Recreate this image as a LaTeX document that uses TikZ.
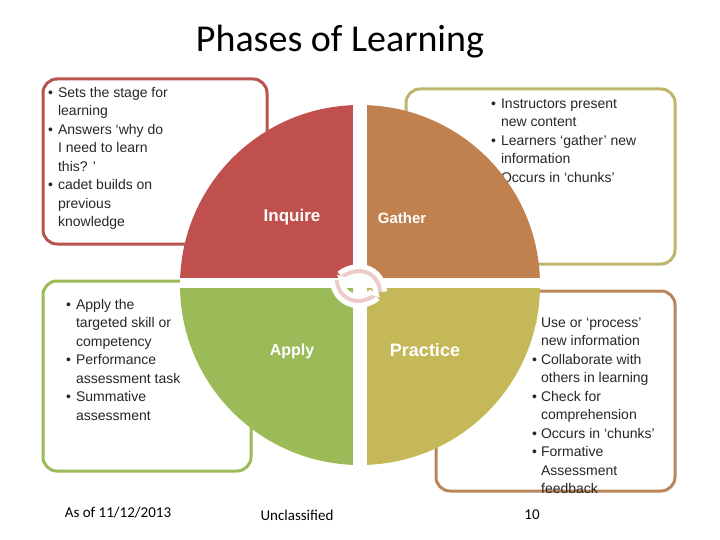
\documentclass[tikz,border=0pt]{standalone}
\usepackage{fontspec}
\usetikzlibrary{arrows.meta}
\setmainfont{Liberation Sans}
\newfontfamily\calfont{Carlito}
\begin{document}
\begin{tikzpicture}[x=1pt,y=-1pt,
 box/.style={rounded corners=14pt,line width=3pt},
 btxt/.style={anchor=north west,inner sep=0pt,font=\fontsize{14}{18.5}\selectfont,text=black!85},
 qlab/.style={text=white,font=\bfseries}]
\useasboundingbox (0,0) rectangle (720,540);
\definecolor{qred}{HTML}{C0504D}\definecolor{qora}{HTML}{C0814F}
\definecolor{qgrn}{HTML}{9BBB59}\definecolor{qoli}{HTML}{C4B858}
\definecolor{bred}{HTML}{B8544F}\definecolor{boli}{HTML}{BDB56A}
\definecolor{bbro}{HTML}{B8865A}
\node (title) at (340,42) {\calfont\fontsize{38}{40}\selectfont Phases of Learning};
\draw[box,bred] (43,79) rectangle (267,244);
\draw[box,boli] (406,89) rectangle (675,264);
\draw[box,qgrn] (43,281) rectangle (251,471);
\draw[box,bbro] (436,291) rectangle (675,491);
\node[btxt] (t1) at (48,84) {\begin{tabular}{@{}l@{\hspace{5pt}}l@{}}
\textbullet & Sets the stage for\\ & learning\\
\textbullet & Answers ‘why do\\ & I need to learn\\ & this? ’\\
\textbullet & cadet builds on\\ & previous\\ & knowledge\end{tabular}};
\node[btxt] (t2) at (491,95) {\begin{tabular}{@{}l@{\hspace{5pt}}l@{}}
\textbullet & Instructors present\\ & new content\\
\textbullet & Learners ‘gather’ new\\ & information\\
\textbullet & Occurs in ‘chunks’\end{tabular}};
\node[btxt] (t3) at (66,296) {\begin{tabular}{@{}l@{\hspace{5pt}}l@{}}
\textbullet & Apply the\\ & targeted skill or\\ & competency\\
\textbullet & Performance\\ & assessment task\\
\textbullet & Summative\\ & assessment\end{tabular}};
\node[btxt] (t4) at (532,314) {\begin{tabular}{@{}l@{\hspace{4pt}}l@{}}
\textbullet & Use or ‘process’\\ & new information\\
\textbullet & Collaborate with\\ & others in learning\\
\textbullet & Check for\\ & comprehension\\
\textbullet & Occurs in ‘chunks’\\
\textbullet & Formative\\ & Assessment\\ & feedback\end{tabular}};
% circle
\begin{scope}
\clip (360,285) circle (180);
\fill[qred] (180,105) rectangle (360,285);
\fill[qora] (360,105) rectangle (540,285);
\fill[qgrn] (180,285) rectangle (360,465);
\fill[qoli] (360,285) rectangle (540,465);
\fill[white] (353,100) rectangle (367,470);
\fill[white] (175,278) rectangle (545,288);
\end{scope}
\draw[line width=5pt,draw=white,double=black!12!pink!60!white,double distance=4pt,
  -{Latex[length=9pt,width=12pt]}] (337,280) arc[start angle=180,end angle=20,radius=21];
\draw[line width=5pt,draw=white,double=black!12!pink!60!white,double distance=4pt,
  -{Latex[length=9pt,width=12pt]}] (380,292) arc[start angle=0,end angle=-160,radius=21];
\node[qlab,font=\bfseries\fontsize{17}{18}\selectfont] (inq) at (292,217) {Inquire};
\node[qlab,font=\bfseries\fontsize{15}{18}\selectfont] (gat) at (402,218) {Gather};
\node[qlab,font=\bfseries\fontsize{16}{18}\selectfont] (app) at (292,351) {Apply};
\node[qlab,font=\bfseries\fontsize{18}{18}\selectfont] (pra) at (425,350) {Practice};
\node (d) at (118,513) {\calfont\fontsize{15}{16}\selectfont As of 11/12/2013};
\node (u) at (297,515) {\calfont\fontsize{15}{16}\selectfont Unclassified};
\node (p) at (532,515) {\calfont\fontsize{15}{16}\selectfont 10};
\end{tikzpicture}
\end{document}
